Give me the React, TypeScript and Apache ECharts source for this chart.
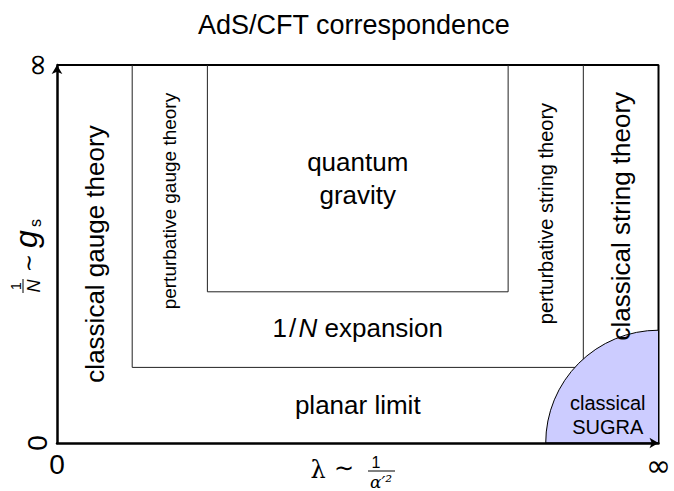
import React, { useEffect, useRef } from 'react';
import * as echarts from 'echarts';

// ---- data (diagram coordinates: λ from 0 to ∞ mapped on 0..16, 1/N from 0 to ∞ on 0..10)
const xRange = [0, 16];
const yRange = [0, 10];
const xTickLabels = ['0', '{inf|∞}'];
const yTickLabels = ['0', '{inf|∞}'];
const framePath = [[0, 10], [16, 10], [16, 0]];
const expansionBox = [[2, 10], [2, 2], [14, 2], [14, 10]];
const gravityBox = [[4, 10], [4, 4], [12, 4], [12, 10]];
const sugraCenter = [16, 0];
const sugraRadius = 3;
const regionNames = [
  'classical gauge theory',
  'perturbative gauge theory',
  'quantum\ngravity',
  '1\u200A/\u200A{i|N} expansion',
  'planar limit',
  'perturbative string theory',
  'classical string theory',
  'classical\nSUGRA',
];
const regionX = [1, 3, 8, 8, 8, 13, 15, 14.65];
const regionY = [5, 6.4, 7, 3.05, 1, 6.07, 6, 0.75];

// ---- styles
const SANS = 'Liberation Sans';
const regionVertical = [true, true, false, false, false, true, true, false];
const regionFont = [26, 19, 26, 26, 26, 20, 26, 20];
const regionLineHeight = [30, 22, 33, 30, 30, 22, 30, 24];
const infRich = { inf: { fontFamily: 'DejaVu Sans', fontSize: 30, color: '#000' } };

export default function App() {
  const ref = useRef<HTMLDivElement>(null);
  useEffect(() => {
    if (!ref.current) return;
    const chart = echarts.init(ref.current, undefined, { renderer: 'svg' });
    const option: any = {
      animation: false,
      title: {
        text: 'AdS/CFT correspondence',
        left: 193,
        top: 6,
        textStyle: { fontSize: 27, fontWeight: 'normal', fontFamily: SANS, color: '#000' },
      },
      grid: { left: 57, top: 65, right: 12, bottom: 48, containLabel: false },
      xAxis: {
        type: 'value',
        min: xRange[0],
        max: xRange[1],
        interval: xRange[1] - xRange[0],
        z: 10,
        splitLine: { show: false },
        axisTick: { show: false },
        axisLine: { show: true, symbol: ['none', 'arrow'], symbolSize: [8, 9], lineStyle: { color: '#000', width: 2.5 } },
        axisLabel: {
          showMinLabel: true,
          showMaxLabel: true,
          hideOverlap: false,
          margin: 7,
          fontSize: 28,
          fontFamily: SANS,
          color: '#000',
          rich: infRich,
          formatter: (v: number) => (v === xRange[0] ? xTickLabels[0] : xTickLabels[1]),
        },
      },
      yAxis: {
        type: 'value',
        min: yRange[0],
        max: yRange[1],
        interval: yRange[1] - yRange[0],
        z: 10,
        splitLine: { show: false },
        axisTick: { show: false },
        axisLine: { show: true, symbol: ['none', 'arrow'], symbolSize: [8, 9], lineStyle: { color: '#000', width: 2.5 } },
        axisLabel: {
          showMinLabel: true,
          showMaxLabel: true,
          hideOverlap: false,
          rotate: 90,
          margin: 6,
          fontSize: 28,
          fontFamily: SANS,
          color: '#000',
          rich: infRich,
          formatter: (v: number) => (v === yRange[0] ? yTickLabels[0] : yTickLabels[1]),
        },
      },
      series: [
        {
          type: 'line',
          data: framePath,
          symbol: 'none',
          clip: false,
          z: 2,
          lineStyle: { color: '#000', width: 2 },
        },
        {
          type: 'line',
          data: expansionBox,
          symbol: 'none',
          clip: false,
          z: 2,
          lineStyle: { color: '#222', width: 1 },
        },
        {
          type: 'line',
          data: gravityBox,
          symbol: 'none',
          clip: false,
          z: 2,
          lineStyle: { color: '#222', width: 1 },
        },
        {
          type: 'custom',
          z: 3,
          data: [[sugraCenter[0], sugraCenter[1], sugraRadius]],
          renderItem: (params: any, api: any) => {
            const c = api.coord([api.value(0), api.value(1)]);
            const e = api.coord([api.value(0) - api.value(2), api.value(1)]);
            const r = c[0] - e[0];
            return {
              type: 'sector',
              shape: { cx: c[0], cy: c[1], r0: 0, r, startAngle: Math.PI, endAngle: Math.PI * 1.5, clockwise: true },
              style: { fill: '#ccccff', stroke: '#000', lineWidth: 1 },
            };
          },
        },
        {
          type: 'custom',
          z: 4,
          data: regionX.map((x, i) => [x, regionY[i]]),
          renderItem: (params: any, api: any) => {
            const i = params.dataIndex;
            const p = api.coord([api.value(0), api.value(1)]);
            return {
              type: 'text',
              x: p[0],
              y: p[1],
              rotation: regionVertical[i] ? Math.PI / 2 : 0,
              style: {
                text: regionNames[i],
                fontSize: regionFont[i],
                fontFamily: SANS,
                lineHeight: regionLineHeight[i],
                fill: '#000',
                textFill: '#000',
                align: 'center',
                verticalAlign: 'middle',
                textAlign: 'center',
                textVerticalAlign: 'middle',
                rich: {
                  i: { fontStyle: 'italic', fontSize: regionFont[i], fontFamily: SANS, fill: '#000', textFill: '#000' },
                },
              },
            };
          },
        },
      ],
      graphic: [
        {
          type: 'group',
          x: 29,
          y: 254,
          rotation: Math.PI / 2,
          children: [
            { type: 'text', x: -32, y: -13, style: { text: '1', fontSize: 14, fontFamily: SANS, fill: '#000', textAlign: 'center', textVerticalAlign: 'middle' } },
            { type: 'line', shape: { x1: -39, y1: -6, x2: -25, y2: -6 }, style: { stroke: '#000', lineWidth: 1 } },
            { type: 'text', x: -32, y: 5, style: { text: 'N', fontSize: 18, fontStyle: 'italic', fontFamily: SANS, fill: '#000', textAlign: 'center', textVerticalAlign: 'middle' } },
            { type: 'text', x: -9, y: -1, style: { text: '∼', fontSize: 22, fontFamily: 'DejaVu Sans', fill: '#000', textAlign: 'center', textVerticalAlign: 'middle' } },
            { type: 'text', x: 15, y: -3, style: { text: 'g', fontSize: 32, fontStyle: 'italic', fontFamily: SANS, fill: '#000', textAlign: 'center', textVerticalAlign: 'middle' } },
            { type: 'text', x: 31, y: 6, style: { text: 's', fontSize: 16, fontFamily: SANS, fill: '#000', textAlign: 'center', textVerticalAlign: 'middle' } },
          ],
        },
        {
          type: 'group',
          x: 0,
          y: 0,
          children: [
            { type: 'text', x: 318, y: 470, style: { text: 'λ', fontSize: 24, fontFamily: 'DejaVu Serif', fill: '#000', textAlign: 'center', textVerticalAlign: 'middle' } },
            { type: 'text', x: 344, y: 468, style: { text: '∼', fontSize: 24, fontFamily: 'DejaVu Sans', fill: '#000', textAlign: 'center', textVerticalAlign: 'middle' } },
            { type: 'text', x: 376, y: 462, style: { text: '1', fontSize: 16, fontFamily: SANS, fill: '#000', textAlign: 'center', textVerticalAlign: 'middle' } },
            { type: 'line', shape: { x1: 368, y1: 471, x2: 395, y2: 471 }, style: { stroke: '#000', lineWidth: 1 } },
            { type: 'text', x: 381, y: 482, style: { text: 'α′²', fontSize: 17, fontStyle: 'italic', fontFamily: 'DejaVu Serif', fill: '#000', textAlign: 'center', textVerticalAlign: 'middle' } },
          ],
        },
      ],
    };
    chart.setOption(option);
    return () => chart.dispose();
  }, []);
  return <div ref={ref} style={{ position: 'fixed', left: 0, top: 0, width: 674, height: 491, background: '#fff' }} />;
}
